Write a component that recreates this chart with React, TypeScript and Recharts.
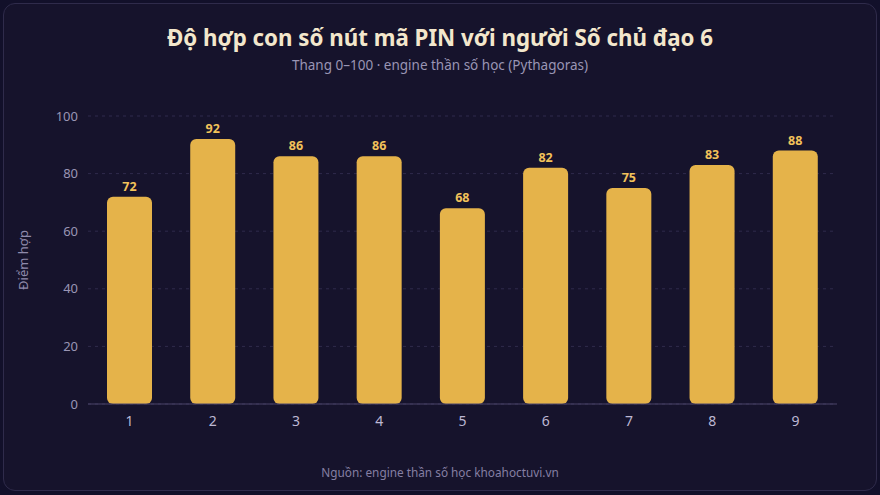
import { BarChart, Bar, CartesianGrid, XAxis, YAxis, LabelList } from "recharts";

const pinDigits = ["1", "2", "3", "4", "5", "6", "7", "8", "9"];
const scores = [72, 92, 86, 86, 68, 82, 75, 83, 88];
const yTicks = [0, 20, 40, 60, 80, 100];

const data = pinDigits.map((digit, i) => ({ digit, score: scores[i] }));

const FONT = "'Noto Sans', 'Open Sans', sans-serif";

export default function App() {
  return (
    <div
      style={{
        position: "relative",
        width: 880,
        height: 495,
        background: "#12102a",
        fontFamily: FONT,
        overflow: "hidden",
      }}
    >
      <style>{`html, body { margin: 0; padding: 0; background: #12102a; }`}</style>
      <div
        style={{
          position: "absolute",
          left: 3,
          top: 3,
          width: 872,
          height: 486,
          border: "1px solid #2f2b4b",
          borderRadius: 12,
          background: "#16132c",
        }}
      />
      <div
        style={{
          position: "absolute",
          top: 22,
          width: 880,
          textAlign: "center",
          fontSize: 22.3,
          fontWeight: 700,
          color: "#f3e7cc",
        }}
      >
        Độ hợp con số nút mã PIN với người Số chủ đạo 6
      </div>
      <div
        style={{
          position: "absolute",
          top: 56,
          width: 880,
          textAlign: "center",
          fontSize: 13.5,
          color: "#9a95b4",
        }}
      >
        Thang 0–100 · engine thần số học (Pythagoras)
      </div>

      <div style={{ position: "absolute", left: 0, top: 0 }}>
        <BarChart
          width={880}
          height={495}
          data={data}
          margin={{ top: 116, right: 43, bottom: 61, left: 28 }}
        >
          <CartesianGrid
            vertical={false}
            stroke="#2f2b4c"
            strokeDasharray="3 4"
          />
          <XAxis
            dataKey="digit"
            axisLine={{ stroke: "#4b4569" }}
            tickLine={false}
            tickMargin={6}
            height={30}
            tick={{ fill: "#bdb8d4", fontSize: 14, fontFamily: FONT }}
          />
          <YAxis
            domain={[0, 100]}
            ticks={yTicks}
            width={60}
            axisLine={false}
            tickLine={false}
            tickMargin={4}
            tick={{ fill: "#9a95b4", fontSize: 13, fontFamily: FONT }}
            label={{
              content: ({ viewBox }: any) => {
                const cy = viewBox.y + viewBox.height / 2;
                return (
                  <text
                    x={23}
                    y={cy}
                    transform={`rotate(-90, 23, ${cy})`}
                    textAnchor="middle"
                    dominantBaseline="central"
                    fill="#8f8aab"
                    fontSize={13}
                    fontFamily={FONT}
                  >
                    Điểm hợp
                  </text>
                );
              },
            }}
          />
          <Bar
            dataKey="score"
            fill="#e5b34a"
            barSize={45}
            radius={[6, 6, 6, 6]}
            isAnimationActive={false}
          >
            <LabelList
              dataKey="score"
              position="top"
              offset={6}
              fill="#f2c25a"
              fontSize={12.5}
              fontWeight={700}
              fontFamily={FONT}
            />
          </Bar>
        </BarChart>
      </div>

      <div
        style={{
          position: "absolute",
          top: 464,
          width: 880,
          textAlign: "center",
          fontSize: 11.8,
          color: "#857fa3",
        }}
      >
        Nguồn: engine thần số học khoahoctuvi.vn
      </div>
    </div>
  );
}
